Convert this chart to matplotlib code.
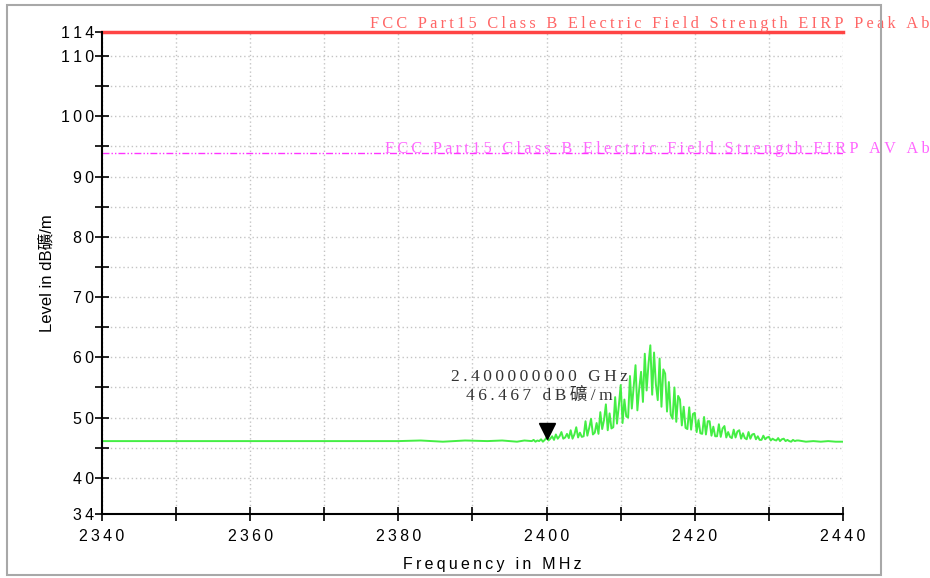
import numpy as np
import matplotlib
matplotlib.use("Agg")
from matplotlib import pyplot as plt
from matplotlib.patches import Rectangle

# spectrum trace
freq_base = [2340, 2345, 2350, 2355, 2360, 2365, 2370, 2375, 2380, 2383, 2386, 2389, 2392, 2394, 2396, 2397]
level_base = [46.1, 46.1, 46.1, 46.1, 46.1, 46.1, 46.1, 46.1, 46.1, 46.2, 46.0, 46.2, 46.1, 46.2, 46.0, 46.2]

freq_peak = np.arange(2398, 2434, 0.25)
level_peak = [46.1, 46.3, 46.0, 46.2,
              46.1, 46.4, 46.0, 46.3,
              46.7, 46.2, 46.5, 46.9,
              46.3, 47.2, 46.5, 46.9,
              47.6, 46.5, 46.7, 47.3,
              46.6, 47.9, 46.5, 47.2,
              48.4, 46.7, 47.5, 46.8,
              46.9, 49.4, 47.0, 48.3,
              49.8, 47.2, 47.5, 49.1,
              47.3, 50.9, 48.1, 49.6,
              52.2, 47.9, 50.7, 48.2,
              48.4, 53.4, 49.0, 52.0,
              55.4, 49.1, 53.0, 50.2,
              50.0, 56.9, 51.5, 55.2,
              58.7, 51.2, 54.8, 57.6,
              52.6, 60.6, 54.5, 58.9,
              62.0, 53.8, 60.8, 55.5,
              52.9, 59.8, 51.8, 58.0,
              57.3, 51.0, 55.9, 50.5,
              49.8, 55.0, 49.3, 53.6,
              53.0, 48.7, 51.8, 48.3,
              48.1, 51.7, 48.0, 50.6,
              50.8, 47.6, 49.6, 47.4,
              47.3, 50.1, 47.2, 49.4,
              49.4, 47.0, 48.5, 46.9,
              46.9, 48.9, 46.8, 48.2,
              48.6, 46.7, 47.6, 46.8,
              46.6, 48.0, 46.7, 47.7,
              47.9, 46.5, 47.4, 46.6,
              46.4, 47.6, 46.5, 47.2,
              47.3, 46.4, 46.9, 46.3,
              46.3, 47.0, 46.4, 46.7,
              46.8, 46.2, 46.5, 46.3,
              46.2, 46.6, 46.1, 46.4,
              46.5, 46.1, 46.3, 46.1,
              46.0, 46.3, 46.1, 46.2]

freq_tail = [2434, 2435, 2436, 2437, 2438, 2439, 2440]
level_tail = [46.2, 46.0, 46.1, 46.0, 46.1, 46.0, 46.0]

peak_limit = 114
av_limit = 94
marker_freq = 2400
marker_level = 46.467

xticks = [2340, 2360, 2380, 2400, 2420, 2440]
yticks = [34, 40, 50, 60, 70, 80, 90, 100, 110, 114]

freq = np.concatenate([freq_base, freq_peak, freq_tail])
level = np.concatenate([level_base, level_peak, level_tail])

def spaced(s):
    # wide letter spacing like the analyser printout
    return "\u2009".join(s)

sans = ["Liberation Sans", "Noto Sans CJK TC", "DejaVu Sans"]
serif = ["Liberation Serif", "Noto Sans CJK TC", "DejaVu Serif"]

fig = plt.figure(figsize=(9.3, 5.78), dpi=100)
fig.patches.append(Rectangle((7/930, 3/578), 874/930, 570/578, transform=fig.transFigure,
                             fill=False, edgecolor="#a8a8a8", linewidth=1.5))
ax = fig.add_axes([102/930, 64/578, 741/930, 482/578])

ax.plot(freq, level, color="#44ee44", linewidth=1.4)
ax.plot([2340, 2440], [peak_limit, peak_limit], color="#ff4444", linewidth=2.5, clip_on=False)
ax.plot([2340, 2440], [av_limit, av_limit], color="#ff33ff", linewidth=1.0,
        linestyle=(0, (5, 1.5, 1, 1.5, 1, 1.5)))
ax.plot([marker_freq], [47.7], marker="v", color="black", markersize=11, linestyle="none")

ax.text(2376.2, 115.3, spaced("FCC Part15 Class B Electric Field Strength EIRP Peak Ab"),
        color="#ff6666", fontsize=11.7, family=serif, va="center", ha="left", clip_on=False)
ax.text(2378.2, 94.5, spaced("FCC Part15 Class B Electric Field Strength EIRP AV Ab"),
        color="#ff66ff", fontsize=11.7, family=serif, va="center", ha="left", clip_on=False)
ax.text(2399.0, 52.3, spaced("2.400000000 GHz") + "\n" + spaced("46.467 dB礦/m"),
        color="#333333", fontsize=12.5, family=serif, ha="center", va="bottom", linespacing=1.2)

ax.set_xlim(2340, 2440)
ax.set_ylim(34, 114)
ax.set_xticks(xticks)
ax.set_xticklabels([spaced(str(t)) for t in xticks], family=sans, fontsize=11.5)
ax.set_xticks(np.arange(2350, 2440, 20), minor=True)
ax.set_yticks(yticks)
ax.set_yticklabels([spaced(str(t)) for t in yticks], family=sans, fontsize=11.5)
ax.set_yticks(np.arange(45, 110, 10), minor=True)
ax.tick_params(which="both", direction="inout", length=10, width=1.2, color="black")
ax.tick_params(axis="y", which="major", pad=0.5)
ax.tick_params(axis="x", which="major", pad=6)

ax.grid(True, which="both", color="#c4c4c4", linestyle=(0, (1, 2)), linewidth=1.0)
for s in ["top", "right"]:
    ax.spines[s].set_visible(False)
for s in ["left", "bottom"]:
    ax.spines[s].set_linewidth(1.5)
ax.set_axisbelow(True)

ax.set_ylabel("Level in dB礦/m", family=sans, fontsize=12, labelpad=4)
fig.text(492/930, 1 - 564/578, spaced("Frequency in MHz"), family=sans, fontsize=11.5,
         ha="center", va="center")

fig.savefig("out.png", dpi=100)
